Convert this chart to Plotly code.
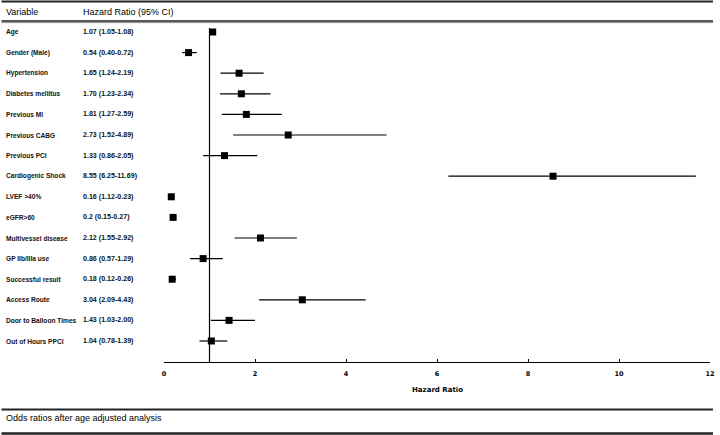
import plotly.graph_objects as go

variables = ["Age", "Gender (Male)", "Hypertension", "Diabetes mellitus", "Previous MI",
             "Previous CABG", "Previous PCI", "Cardiogenic Shock", "LVEF >40%", "eGFR>60",
             "Multivessel disease", "GP IIb/IIIa use", "Successful result", "Access Route",
             "Door to Balloon Times", "Out of Hours PPCI"]
hr = [1.07, 0.54, 1.65, 1.70, 1.81, 2.73, 1.33, 8.55, 0.16, 0.2, 2.12, 0.86, 0.18, 3.04, 1.43, 1.04]
ci_low = [1.05, 0.40, 1.24, 1.23, 1.27, 1.52, 0.86, 6.25, 1.12, 0.15, 1.55, 0.57, 0.12, 2.09, 1.03, 0.78]
ci_high = [1.08, 0.72, 2.19, 2.34, 2.59, 4.89, 2.05, 11.69, 0.23, 0.27, 2.92, 1.29, 0.26, 4.43, 2.00, 1.39]
ci_text = ["1.07 (1.05-1.08)", "0.54 (0.40-0.72)", "1.65 (1.24-2.19)", "1.70 (1.23-2.34)",
           "1.81 (1.27-2.59)", "2.73 (1.52-4.89)", "1.33 (0.86-2.05)", "8.55 (6.25-11.69)",
           "0.16 (1.12-0.23)", "0.2 (0.15-0.27)", "2.12 (1.55-2.92)", "0.86 (0.57-1.29)",
           "0.18 (0.12-0.26)", "3.04 (2.09-4.43)", "1.43 (1.03-2.00)", "1.04 (0.78-1.39)"]
x_ticks = [0, 2, 4, 6, 8, 10, 12]
ref_value = 1

W, H = 720, 435
L, R, T, B = 164, 5, 22, 73
row0_px, row_step = 32, 20.6

def px_x(p):
    return (p - L) / (W - L - R)

def px_y(p):
    return (H - B - p) / (H - T - B)

rows = list(range(len(variables)))
y_top = (T - row0_px) / row_step
y_bot = (H - B - row0_px) / row_step

fig = go.Figure()
fig.add_trace(go.Scatter(
    x=hr, y=rows, mode="markers",
    marker=dict(symbol="square", size=7, color="black"),
    error_x=dict(type="data", symmetric=False,
                 array=[max(h - v, 0) for h, v in zip(ci_high, hr)],
                 arrayminus=[max(v - l, 0) for v, l in zip(hr, ci_low)],
                 width=0, thickness=1.2, color="black"),
    showlegend=False, hoverinfo="skip"))

# reference line
fig.add_shape(type="line", xref="x", yref="y", x0=ref_value, x1=ref_value,
              y0=-0.2, y1=y_bot, line=dict(color="black", width=1.2), layer="below")

row_font = dict(family="Liberation Sans", size=6.6, color="#111111", weight="bold")
ci_font = dict(family="Liberation Sans", size=7.1, color="#111111", weight="bold")
anns = []
for i, (v, t) in enumerate(zip(variables, ci_text)):
    anns.append(dict(x=px_x(3), y=i, xref="paper", yref="y", text=v, showarrow=False,
                     xanchor="left", yanchor="middle", font=row_font))
    anns.append(dict(x=px_x(80), y=i, xref="paper", yref="y", text=t, showarrow=False,
                     xanchor="left", yanchor="middle", font=ci_font))
hdr_font = dict(family="Liberation Sans", size=9, color="black")
anns.append(dict(x=px_x(3), y=px_y(12), xref="paper", yref="paper", text="Variable",
                 showarrow=False, xanchor="left", yanchor="middle", font=hdr_font))
anns.append(dict(x=px_x(80), y=px_y(12), xref="paper", yref="paper", text="Hazard Ratio (95% CI)",
                 showarrow=False, xanchor="left", yanchor="middle", font=hdr_font))
anns.append(dict(x=px_x(3), y=px_y(418), xref="paper", yref="paper",
                 text="Odds ratios after age adjusted analysis",
                 showarrow=False, xanchor="left", yanchor="middle", font=hdr_font))
anns.append(dict(x=0.5, y=px_y(390), xref="paper", yref="paper", text="Hazard Ratio",
                 showarrow=False, xanchor="center", yanchor="middle",
                 font=dict(family="DejaVu Sans", size=7, color="black", weight="bold")))

shapes_px = [(1.5, 2, "#222222"), (21, 1.6, "#222222"), (22.6, 1, "#888888"),
             (409.5, 2, "#222222"), (433.5, 2.5, "#222222")]
for yp, w, c in shapes_px:
    fig.add_shape(type="line", xref="paper", yref="paper", x0=px_x(0), x1=px_x(718),
                  y0=px_y(yp), y1=px_y(yp), line=dict(color=c, width=w))

fig.update_layout(
    width=W, height=H, margin=dict(l=L, r=R, t=T, b=B),
    paper_bgcolor="white", plot_bgcolor="white",
    annotations=anns,
    xaxis=dict(range=[0, 12], tickvals=x_ticks, ticktext=[str(v) for v in x_ticks],
               showgrid=False, zeroline=False, showline=True, linecolor="black", linewidth=1,
               ticks="inside", ticklen=3, tickcolor="black", ticklabelstandoff=5,
               tickfont=dict(family="DejaVu Sans", size=6.5, color="black", weight="bold")),
    yaxis=dict(range=[y_bot, y_top], showgrid=False, zeroline=False, showline=False,
               showticklabels=False, ticks=""),
)

fig.write_html("out.html", config={"displayModeBar": False},
               post_script="document.body.style.margin='0px';")
